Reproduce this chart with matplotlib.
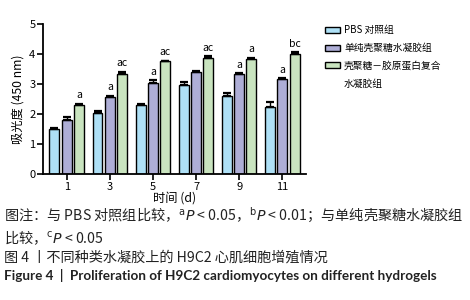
import matplotlib
matplotlib.use("Agg")
import matplotlib.pyplot as plt
from matplotlib.patches import Patch
import numpy as np

plt.rcParams['font.family'] = ['Noto Sans CJK SC', 'DejaVu Sans']
plt.rcParams['mathtext.fontset'] = 'dejavusans'

days = ["1", "3", "5", "7", "9", "11"]
groups = ["PBS 对照组", "单纯壳聚糖水凝胶组", "壳聚糖－胶原蛋白复合"]
group3_cont = "水凝胶组"
pbs = [1.50, 2.04, 2.32, 2.98, 2.62, 2.24]
pbs_err = [0.05, 0.06, 0.03, 0.08, 0.07, 0.15]
cs = [1.79, 2.58, 3.03, 3.41, 3.33, 3.16]
cs_err = [0.10, 0.03, 0.10, 0.04, 0.04, 0.03]
csc = [2.32, 3.33, 3.76, 3.89, 3.83, 4.02]
csc_err = [0.03, 0.08, 0.02, 0.04, 0.05, 0.05]
cs_sig = ["", "a", "a", "", "a", "a"]
csc_sig = ["a", "ac", "ac", "ac", "a", "bc"]
colors = ["#aee0f6", "#aeaed6", "#c9e4bf"]

fig = plt.figure(figsize=(4.7, 3.0), dpi=100)
ax = fig.add_axes([0.0915, 0.42, 0.5595, 0.499])

x = np.arange(len(days))
step = 0.285
w = 0.23
series = [(pbs, pbs_err), (cs, cs_err), (csc, csc_err)]
handles = []
for i, ((vals, errs), col, lab) in enumerate(zip(series, colors, groups)):
    pos = x + (i - 1) * step
    b = ax.bar(pos, vals, width=w, color=col, edgecolor='black', linewidth=1.0, label=lab, zorder=2)
    handles.append(b)
    ax.errorbar(pos, vals, yerr=[np.zeros(len(errs)), errs], fmt='none', ecolor='black',
                elinewidth=1.0, capsize=2.8, capthick=1.6, zorder=3)

for i in range(len(days)):
    if cs_sig[i]:
        ax.text(x[i], cs[i] + cs_err[i] + 0.12, cs_sig[i], ha='center', va='bottom', fontsize=7.5)
    if csc_sig[i]:
        ax.text(x[i] + step, csc[i] + csc_err[i] + 0.12, csc_sig[i], ha='center', va='bottom', fontsize=7.5)

ax.set_xlim(-0.55, 5.55)
ax.set_ylim(0, 5)
ax.set_yticks([0, 1, 2, 3, 4, 5])
ax.set_xticks(x)
ax.set_xticklabels(days)
ax.tick_params(axis='both', labelsize=8, length=4, width=1.2, pad=1.5)
for s in ['top', 'right']:
    ax.spines[s].set_visible(False)
for s in ['left', 'bottom']:
    ax.spines[s].set_linewidth(1.3)
ax.set_ylabel("吸光度 (450 nm)", fontsize=8.8, labelpad=3)
ax.set_xlabel("时间 (d)", fontsize=8.8, labelpad=0)

blank = Patch(facecolor='none', edgecolor='none')
leg = fig.legend(handles + [blank], groups + [group3_cont], loc='upper left',
                 bbox_to_anchor=(0.673, 0.945), frameon=False, fontsize=7,
                 handlelength=1.5, handleheight=0.6, handletextpad=0.45, labelspacing=0.8)
for p in leg.get_patches()[:3]:
    p.set_linewidth(1.0)

fs = 10.2
fig.text(0.008, 0.281, "图注：与 PBS 对照组比较，$^{\\mathrm{a}}\\mathit{P}$ < 0.05，$^{\\mathrm{b}}\\mathit{P}$ < 0.01；与单纯壳聚糖水凝胶组",
         fontsize=fs, va='center', ha='left', color='#222222')
fig.text(0.008, 0.207, "比较，$^{\\mathrm{c}}\\mathit{P}$ < 0.05", fontsize=fs, va='center', ha='left', color='#222222')
fig.text(0.008, 0.143, "图 4 丨不同种类水凝胶上的 H9C2 心肌细胞增殖情况", fontsize=fs, va='center', ha='left', color='#222222')
fig.text(0.008, 0.083, "Figure 4  |  Proliferation of H9C2 cardiomyocytes on different hydrogels", fontsize=9.7,
         fontweight='bold', family=['Lato', 'DejaVu Sans'], va='center', ha='left', color='#222222')

fig.savefig("out.png", dpi=100)
